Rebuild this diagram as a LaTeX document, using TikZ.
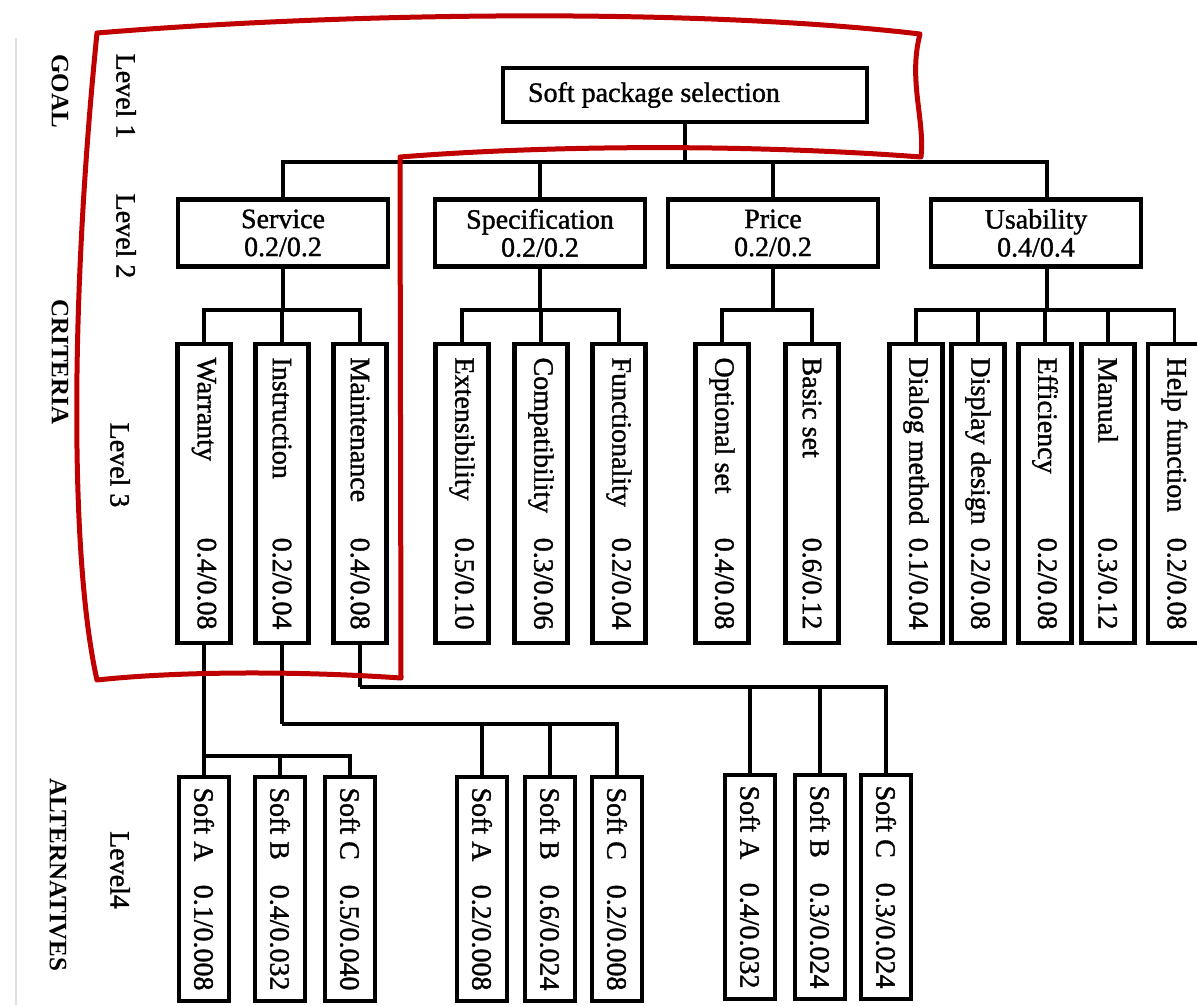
\documentclass[tikz,border=0pt]{standalone}
\usepackage{fontspec}
\setmainfont{Liberation Serif}[FakeBold=1.2]
\newfontfamily\sidefont{Liberation Serif Bold}
\definecolor{hlred}{RGB}{192,0,0}
\tikzset{
  fs/.style={font=\fontsize{28}{28}\selectfont},
  box/.style={draw, line width=4.5pt, inner sep=0pt, fs},
  goalbox/.style={box, minimum width=364pt, minimum height=54pt},
  lvtwo/.style={box, minimum width=210pt, minimum height=67pt, align=center},
  critbox/.style={box, rotate=-90, minimum width=299pt, minimum height=53pt},
  altbox/.style={box, rotate=-90, minimum width=224pt, minimum height=50pt},
  conn/.style={line width=3.5pt},
  lvl/.style={rotate=-90, fs, inner sep=0pt},
  side/.style={rotate=-90, font=\sidefont\fontsize{25}{25}\selectfont, inner sep=0pt},
  hl/.style={draw=hlred, line width=5pt, line join=round}
}
\newcommand\crittext[2]{\hbox to 272pt{#1\hfil #2}}
\newcommand\alttext[2]{\hbox to 203pt{#1\hfil #2}}
\begin{document}
\begin{tikzpicture}[x=1pt,y=-1pt]
\path[use as bounding box, clip] (0,0) rectangle (1197,1005);
\fill[white] (0,0) rectangle (1197,1005);
\draw[gray!25, line width=1.2pt] (16,38) -- (16,1005);

% side labels
\node[side] (goallbl) at (60,91) {GOAL};
\node[side] (critlbl) at (60,362) {CRITERIA};
\node[side] (altlbl) at (58,875) {ALTERNATIVES};
\node[lvl] (lv1) at (126,96) {Level 1};
\node[lvl] (lv2) at (126,236) {Level 2};
\node[lvl] (lv3) at (120,465) {Level 3};
\node[lvl] (lv4) at (120,870) {Level4};

% level 1
\node[goalbox] (goal) at (685,95) {\hbox to 314pt{Soft package selection\hfil}};

% level 2
\node[lvtwo] (serv) at (283,233) {Service\\0.2/0.2};
\node[lvtwo] (spec) at (540,233) {Specification\\0.2/0.2};
\node[lvtwo] (price) at (773,233) {Price\\0.2/0.2};
\node[lvtwo] (usab) at (1036,233) {Usability\\0.4/0.4};

% level 3
\node[critbox] (war) at (204,493.5) {\crittext{Warranty}{0.4/0.08}};
\node[critbox] (ins) at (282,493.5) {\crittext{Instruction}{0.2/0.04}};
\node[critbox] (mai) at (360,493.5) {\crittext{Maintenance}{0.4/0.08}};
\node[critbox] (ext) at (462,493.5) {\crittext{Extensibility}{0.5/0.10}};
\node[critbox] (com) at (541,493.5) {\crittext{Compatibility}{0.3/0.06}};
\node[critbox] (fun) at (619,493.5) {\crittext{Functionality}{0.2/0.04}};
\node[critbox] (opt) at (722,493.5) {\crittext{Optional set}{0.4/0.08}};
\node[critbox] (bas) at (812,493.5) {\crittext{Basic set}{0.6/0.12}};
\node[critbox] (dia) at (916,493.5) {\crittext{Dialog method}{0.1/0.04}};
\node[critbox] (dis) at (978,493.5) {\crittext{Display design}{0.2/0.08}};
\node[critbox] (eff) at (1045,493.5) {\crittext{Efficiency}{0.2/0.08}};
\node[critbox] (man) at (1108,493.5) {\crittext{Manual}{0.3/0.12}};
\node[critbox] (hel) at (1174.5,493.5) {\crittext{Help function}{0.2/0.08}};

% level 4
\node[altbox] (sA1) at (204,889) {\alttext{Soft A}{0.1/0.008}};
\node[altbox] (sB1) at (280,889) {\alttext{Soft B}{0.4/0.032}};
\node[altbox] (sC1) at (350,889) {\alttext{Soft C}{0.5/0.040}};
\node[altbox] (sA2) at (482,889) {\alttext{Soft A}{0.2/0.008}};
\node[altbox] (sB2) at (550,889) {\alttext{Soft B}{0.6/0.024}};
\node[altbox] (sC2) at (617,889) {\alttext{Soft C}{0.2/0.008}};
\node[altbox] (sA3) at (750,887) {\alttext{Soft A}{0.4/0.032}};
\node[altbox] (sB3) at (820,887) {\alttext{Soft B}{0.3/0.024}};
\node[altbox] (sC3) at (886,887) {\alttext{Soft C}{0.3/0.024}};

% junction points
\coordinate (j2) at (685,162);
\coordinate (ut) at (1047,200);
\coordinate (ub) at (1047,267);
\coordinate (j3s) at (283,310);
\coordinate (j3p) at (540,310);
\coordinate (j3r) at (773,310);
\coordinate (j3u) at (1047,310);
\coordinate (j4a) at (204,756);
\coordinate (j4b) at (282,724);
\coordinate (j4c) at (360,687);

% connectors level 1 -> 2
\draw[conn] (goal.south) -- (j2);
\draw[conn] (j2) -| (serv.north);
\draw[conn] (j2) -| (spec.north);
\draw[conn] (j2) -| (price.north);
\draw[conn] (j2) -| (ut);

% level 2 -> 3
\draw[conn] (serv.south) -- (j3s);
\draw[conn] (j3s) -| (war.west);
\draw[conn] (j3s) -| (ins.west);
\draw[conn] (j3s) -| (mai.west);
\draw[conn] (spec.south) -- (j3p);
\draw[conn] (j3p) -| (ext.west);
\draw[conn] (j3p) -| (com.west);
\draw[conn] (j3p) -| (fun.west);
\draw[conn] (price.south) -- (j3r);
\draw[conn] (j3r) -| (opt.west);
\draw[conn] (j3r) -| (bas.west);
\draw[conn] (ub) -- (j3u);
\draw[conn] (j3u) -| (dia.west);
\draw[conn] (j3u) -| (dis.west);
\draw[conn] (j3u) -| (eff.west);
\draw[conn] (j3u) -| (man.west);
\draw[conn] (j3u) -| (hel.west);

% level 3 -> 4
\draw[conn] (war.east) -- (sA1.west);
\draw[conn] (j4a) -| (sB1.west);
\draw[conn] (j4a) -| (sC1.west);
\draw[conn] (ins.east) -- (j4b);
\draw[conn] (j4b) -| (sA2.west);
\draw[conn] (j4b) -| (sB2.west);
\draw[conn] (j4b) -| (sC2.west);
\draw[conn] (mai.east) -- (j4c);
\draw[conn] (j4c) -| (sA3.west);
\draw[conn] (j4c) -| (sB3.west);
\draw[conn] (j4c) -| (sC3.west);

% red highlight outline
\draw[hl] (97,33) .. controls (350,12) and (700,8) .. (920,34)
  .. controls (908,80) and (925,120) .. (921,157)
  .. controls (750,144) and (550,145) .. (400,157)
  -- (401,678)
  .. controls (300,671) and (180,671) .. (97,680)
  .. controls (70,560) and (70,300) .. cycle;
\end{tikzpicture}
\end{document}
